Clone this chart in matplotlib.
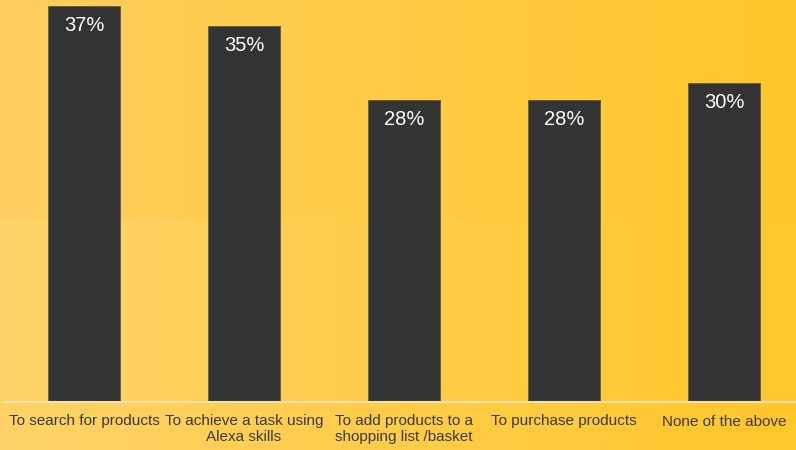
import numpy as np
import matplotlib.pyplot as plt

plt.rcParams['font.family'] = ['Liberation Sans', 'DejaVu Sans']

categories = ["To search for products", "To achieve a task using\nAlexa skills",
              "To add products to a\nshopping list /basket", "To purchase products",
              "None of the above"]
values = [36.95, 35.05, 28.15, 28.15, 29.75]
labels = ["37%", "35%", "28%", "28%", "30%"]

fig = plt.figure(figsize=(7.96, 4.5), dpi=100)

# background gradient
bg = fig.add_axes([0, 0, 1, 1], zorder=0)
xx = np.linspace(0, 1, 300)
yy = np.linspace(0, 1, 200)
X, Y = np.meshgrid(xx, yy)
left_top = np.array([255, 207, 94]) / 255
right_top = np.array([255, 198, 42]) / 255
left_bot = np.array([255, 211, 104]) / 255
right_bot = np.array([255, 199, 42]) / 255
lower = (Y > 0.485).astype(float)  # band (image row 0 is top)
top = left_top[None, None, :] * (1 - X[..., None]) + right_top[None, None, :] * X[..., None]
bot = left_bot[None, None, :] * (1 - X[..., None]) + right_bot[None, None, :] * X[..., None]
img = top * (1 - lower[..., None]) + bot * lower[..., None]
bg.imshow(img, aspect='auto', extent=[0, 1, 0, 1])
bg.axis('off')

ax = fig.add_axes([4 / 796, 48 / 450, 800 / 796, 402 / 450], zorder=1)
ax.patch.set_alpha(0)
x = np.arange(len(categories))
bars = ax.bar(x, values, width=0.45, color='#333333', edgecolor='#5a5a4a', linewidth=0.6)
for b, lab in zip(bars, labels):
    ax.annotate(lab, (b.get_x() + b.get_width() / 2, b.get_height()),
                xytext=(0, -7), textcoords='offset points', ha='center', va='top',
                color='white', fontsize=14.5)

ax.set_xlim(-0.5, 4.5)
ax.set_ylim(0, 37.5)
ax.set_yticks([])
ax.set_xticks(x)
ax.set_xticklabels(categories, fontsize=11, color='#3a3a3a', linespacing=1.15)
ax.tick_params(axis='x', length=0, pad=9)
for s in ['top', 'right', 'left']:
    ax.spines[s].set_visible(False)
ax.spines['bottom'].set_color('#f3e2b0')
ax.spines['bottom'].set_linewidth(1.5)

fig.savefig('out.png', dpi=100)
